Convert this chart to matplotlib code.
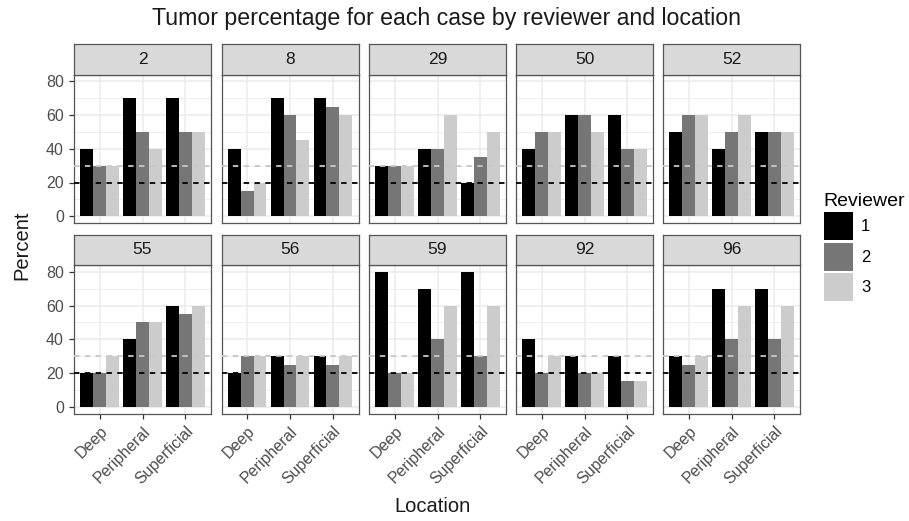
import numpy as np
import matplotlib.pyplot as plt
from matplotlib.patches import Patch

plt.rcParams['font.family'] = ['Liberation Sans', 'DejaVu Sans']

cases = ["2", "8", "29", "50", "52", "55", "56", "59", "92", "96"]
locations = ["Deep", "Peripheral", "Superficial"]
reviewers = ["1", "2", "3"]
# percent per case, in order Deep / Peripheral / Superficial
reviewer1 = [[40, 70, 70], [40, 70, 70], [30, 40, 20], [40, 60, 60], [50, 40, 50],
             [20, 40, 60], [20, 30, 30], [80, 70, 80], [40, 30, 30], [30, 70, 70]]
reviewer2 = [[30, 50, 50], [15, 60, 65], [30, 40, 35], [50, 60, 40], [60, 50, 50],
             [20, 50, 55], [30, 25, 25], [20, 40, 30], [20, 20, 15], [25, 40, 40]]
reviewer3 = [[30, 40, 50], [20, 45, 60], [30, 60, 50], [50, 50, 40], [60, 60, 50],
             [30, 50, 60], [30, 30, 30], [20, 60, 60], [30, 20, 15], [30, 60, 60]]
thresholds = [20, 30]
threshold_colors = ["#000000", "#c8c8c8"]

fills = ["#000000", "#767676", "#cccccc"]
W, H = 909, 521


def box(x0, y0, w, h):
    return [x0 / W, 1 - (y0 + h) / H, w / W, h / H]


fig = plt.figure(figsize=(W / 100, H / 100), dpi=100)

lefts = [74, 221.5, 369, 516, 663]
pw = 137
strip_tops = [44, 234.5]
sh = 30.5
ph = 148.5
width = 0.3
x = np.arange(len(locations))
data = [reviewer1, reviewer2, reviewer3]

for k, case in enumerate(cases):
    r, c = divmod(k, 5)
    ax = fig.add_axes(box(lefts[c], strip_tops[r] + sh, pw, ph))
    for j in range(3):
        ax.bar(x + (j - 1) * width, data[j][k], width, color=fills[j], zorder=2)
    for t, tc in zip(thresholds, threshold_colors):
        ax.axhline(t, color=tc, lw=1.3, ls=(0, (3, 3)), zorder=3)
    ax.set_xlim(-0.6, 2.6)
    ax.set_ylim(-4, 84)
    ax.set_yticks([0, 20, 40, 60, 80])
    ax.set_yticks([10, 30, 50, 70], minor=True)
    ax.set_xticks(x)
    ax.grid(True, which='major', color='#ebebeb', lw=1.1, zorder=0)
    ax.grid(True, which='minor', axis='y', color='#ebebeb', lw=0.6, zorder=0)
    ax.set_axisbelow(True)
    for s in ax.spines.values():
        s.set_color('#555555')
        s.set_linewidth(0.9)
    ax.tick_params(which='major', length=3.8, width=0.9, color='#333333',
                   labelsize=11.5, labelcolor='#4d4d4d', pad=3.5)
    ax.tick_params(which='minor', length=0)
    if c == 0:
        ax.set_yticklabels(["0", "20", "40", "60", "80"])
    else:
        ax.set_yticklabels([])
        ax.tick_params(axis='y', length=0)
    if r == 1:
        ax.set_xticklabels(locations, rotation=45, ha='right', va='top',
                           rotation_mode='anchor')
    else:
        ax.set_xticklabels([])
        ax.tick_params(axis='x', length=0)

    st = fig.add_axes(box(lefts[c], strip_tops[r], pw, sh))
    st.set_facecolor('#d9d9d9')
    st.set_xticks([])
    st.set_yticks([])
    for s in st.spines.values():
        s.set_color('#555555')
        s.set_linewidth(0.9)
    st.text(0.5, 0.5, case, ha='center', va='center', fontsize=12.5,
            color='#1a1a1a', transform=st.transAxes)

fig.text(446 / W, 1 - 18 / H, "Tumor percentage for each case by reviewer and location",
         ha='center', va='center', fontsize=16.7, color='#1a1a1a')
fig.text(22 / W, 1 - 245 / H, "Percent", rotation=90, ha='center', va='center',
         fontsize=14.5, color='#1a1a1a')
fig.text(433 / W, 1 - 507 / H, "Location", ha='center', va='center',
         fontsize=14.5, color='#1a1a1a')

handles = [Patch(facecolor=f, edgecolor='none') for f in fills]
fig.legend(handles, reviewers, title="Reviewer", loc='upper left',
           bbox_to_anchor=(812 / W, 1 - 181 / H), frameon=False,
           fontsize=12, title_fontsize=14, handlelength=1.74, handleheight=2.2,
           labelspacing=0.15, handletextpad=0.5, borderpad=0.2, alignment='left')

plt.savefig("out.png", dpi=100)
